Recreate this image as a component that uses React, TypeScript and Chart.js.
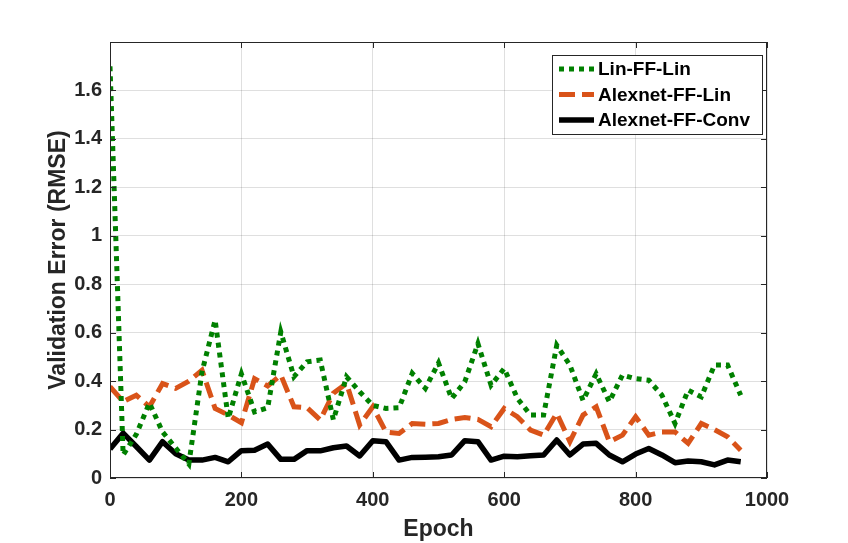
import React, { useEffect, useRef } from "react";
import { Chart, registerables } from "chart.js";

Chart.register(...registerables);

const epochs = [
  0, 20, 40, 60, 80, 100, 120, 140, 160, 180, 200, 220, 240, 260, 280, 300, 320,
  340, 360, 380, 400, 420, 440, 460, 480, 500, 520, 540, 560, 580, 600, 620, 640,
  660, 680, 700, 720, 740, 760, 780, 800, 820, 840, 860, 880, 900, 920, 940, 960,
];

const linFFLin = [
  1.7, 0.095, 0.18, 0.31, 0.19, 0.124, 0.058, 0.438, 0.652, 0.246, 0.43, 0.273,
  0.29, 0.603, 0.418, 0.48, 0.487, 0.24, 0.418, 0.356, 0.3, 0.287, 0.29, 0.432,
  0.37, 0.475, 0.328, 0.397, 0.555, 0.383, 0.452, 0.329, 0.26, 0.26, 0.548, 0.466,
  0.32, 0.43, 0.315, 0.425, 0.41, 0.404, 0.342, 0.225, 0.363, 0.335, 0.466, 0.466,
  0.342,
];

const alexnetFFLin = [
  0.377, 0.315, 0.342, 0.294, 0.39, 0.37, 0.4, 0.445, 0.287, 0.26, 0.228, 0.41,
  0.38, 0.425, 0.294, 0.29, 0.24, 0.35, 0.39, 0.219, 0.294, 0.19, 0.184, 0.225,
  0.222, 0.225, 0.242, 0.25, 0.242, 0.212, 0.287, 0.253, 0.198, 0.177, 0.267, 0.15,
  0.26, 0.294, 0.15, 0.177, 0.253, 0.177, 0.19, 0.19, 0.143, 0.225, 0.2, 0.17,
  0.115,
];

const alexnetFFConv = [
  0.12, 0.185, 0.13, 0.074, 0.15, 0.1, 0.074, 0.074, 0.085, 0.067, 0.113, 0.115,
  0.14, 0.077, 0.077, 0.113, 0.112, 0.125, 0.132, 0.091, 0.154, 0.15, 0.074, 0.085,
  0.086, 0.088, 0.095, 0.154, 0.15, 0.074, 0.09, 0.088, 0.092, 0.095, 0.157, 0.095,
  0.14, 0.143, 0.095, 0.067, 0.099, 0.122, 0.095, 0.063, 0.07, 0.067, 0.054, 0.074,
  0.067,
];

const seriesNames = ["Lin-FF-Lin", "Alexnet-FF-Lin", "Alexnet-FF-Conv"];
const xTicks = [0, 200, 400, 600, 800, 1000];
const yTicks = [0, 0.2, 0.4, 0.6, 0.8, 1, 1.2, 1.4, 1.6];

const FONT = "'Liberation Sans', Arial, sans-serif";
const AXIS_COLOR = "#262626";

const boxPlugin = {
  id: "matlabBox",
  afterDraw(chart: any) {
    const { ctx, chartArea } = chart;
    const { left, right, top, bottom } = chartArea;
    const xs = chart.scales.x;
    const ys = chart.scales.y;
    ctx.save();
    ctx.strokeStyle = AXIS_COLOR;
    ctx.lineWidth = 1;
    ctx.strokeRect(left + 0.5, top + 0.5, right - left - 1, bottom - top - 1);
    const tl = 6;
    ctx.beginPath();
    xTicks.forEach((t) => {
      const px = Math.round(xs.getPixelForValue(t)) + 0.5;
      ctx.moveTo(px, bottom);
      ctx.lineTo(px, bottom - tl);
      ctx.moveTo(px, top);
      ctx.lineTo(px, top + tl);
    });
    yTicks.forEach((t) => {
      const py = Math.round(ys.getPixelForValue(t)) + 0.5;
      ctx.moveTo(left, py);
      ctx.lineTo(left + tl, py);
      ctx.moveTo(right, py);
      ctx.lineTo(right - tl, py);
    });
    ctx.stroke();

    // legend
    ctx.font = `bold 19px ${FONT}`;
    const sets = chart.data.datasets;
    let maxW = 0;
    sets.forEach((d: any) => {
      maxW = Math.max(maxW, ctx.measureText(d.label).width);
    });
    const bw = 46 + maxW + 12;
    const bh = 79;
    const bx = right - 5 - bw;
    const by = top + 13;
    ctx.fillStyle = "#ffffff";
    ctx.fillRect(bx, by, bw, bh);
    ctx.strokeStyle = AXIS_COLOR;
    ctx.lineWidth = 1;
    ctx.strokeRect(Math.round(bx) + 0.5, Math.round(by) + 0.5, Math.round(bw), Math.round(bh));
    const rows = [14, 39.5, 65];
    sets.forEach((d: any, i: number) => {
      const cy = by + rows[i];
      ctx.save();
      ctx.strokeStyle = d.borderColor;
      ctx.lineWidth = d.borderWidth;
      ctx.setLineDash(d.borderDash || []);
      ctx.lineCap = "butt";
      ctx.beginPath();
      ctx.moveTo(bx + 7, cy);
      ctx.lineTo(bx + 42, cy);
      ctx.stroke();
      ctx.restore();
      ctx.fillStyle = "#000000";
      ctx.textAlign = "left";
      ctx.textBaseline = "middle";
      ctx.fillText(d.label, bx + 46, cy + 1);
    });
    ctx.restore();
  },
};

export default function App() {
  const ref = useRef<HTMLCanvasElement | null>(null);

  useEffect(() => {
    if (!ref.current) return;
    const mk = (vals: number[]) => epochs.map((e, i) => ({ x: e, y: vals[i] }));
    const chart = new Chart(ref.current, {
      type: "line",
      data: {
        datasets: [
          {
            label: seriesNames[0],
            data: mk(linFFLin),
            borderColor: "#008000",
            borderWidth: 5,
            borderDash: [5, 5],
            pointRadius: 0,
            tension: 0,
            fill: false,
          },
          {
            label: seriesNames[1],
            data: mk(alexnetFFLin),
            borderColor: "#D95319",
            borderWidth: 5,
            borderDash: [16, 7],
            pointRadius: 0,
            tension: 0,
            fill: false,
          },
          {
            label: seriesNames[2],
            data: mk(alexnetFFConv),
            borderColor: "#000000",
            borderWidth: 5.5,
            borderJoinStyle: "round",
            pointRadius: 0,
            tension: 0,
            fill: false,
          },
        ],
      },
      options: {
        animation: false,
        responsive: true,
        maintainAspectRatio: false,
        layout: { padding: { top: 42, right: 81, left: 0, bottom: 0 } },
        plugins: {
          legend: { display: false },
          tooltip: { enabled: false },
        },
        scales: {
          x: {
            type: "linear",
            min: 0,
            max: 1000,
            afterBuildTicks: (s: any) => {
              s.ticks = xTicks.map((v) => ({ value: v }));
            },
            afterFit: (s: any) => {
              s.height = 65;
            },
            grid: {
              color: "rgba(38,38,38,0.15)",
              drawTicks: false,
            },
            border: { display: false },
            ticks: {
              padding: 10,
              color: AXIS_COLOR,
              font: { family: FONT, size: 20, weight: "bold" },
              callback: (v: any) => String(v),
              maxRotation: 0,
            },
            title: {
              display: true,
              text: "Epoch",
              color: AXIS_COLOR,
              font: { family: FONT, size: 23, weight: "bold" },
              padding: { top: 0, bottom: 0 },
            },
          },
          y: {
            type: "linear",
            min: 0,
            max: 1.8,
            afterBuildTicks: (s: any) => {
              s.ticks = yTicks.map((v) => ({ value: v }));
            },
            afterFit: (s: any) => {
              s.width = 110;
            },
            grid: {
              color: "rgba(38,38,38,0.15)",
              drawTicks: false,
            },
            border: { display: false },
            ticks: {
              padding: 8,
              color: AXIS_COLOR,
              font: { family: FONT, size: 20, weight: "bold" },
              callback: (v: any) => String(+(+v).toFixed(1)),
            },
            title: {
              display: true,
              text: "Validation Error (RMSE)",
              color: AXIS_COLOR,
              font: { family: FONT, size: 23, weight: "bold" },
              padding: { top: 45, bottom: 0 },
            },
          },
        },
      },
      plugins: [boxPlugin],
    } as any);
    return () => chart.destroy();
  }, []);

  return (
    <div
      style={{
        position: "fixed",
        left: 0,
        top: 0,
        width: 848,
        height: 543,
        background: "#ffffff",
      }}
    >
      <canvas ref={ref} />
    </div>
  );
}
